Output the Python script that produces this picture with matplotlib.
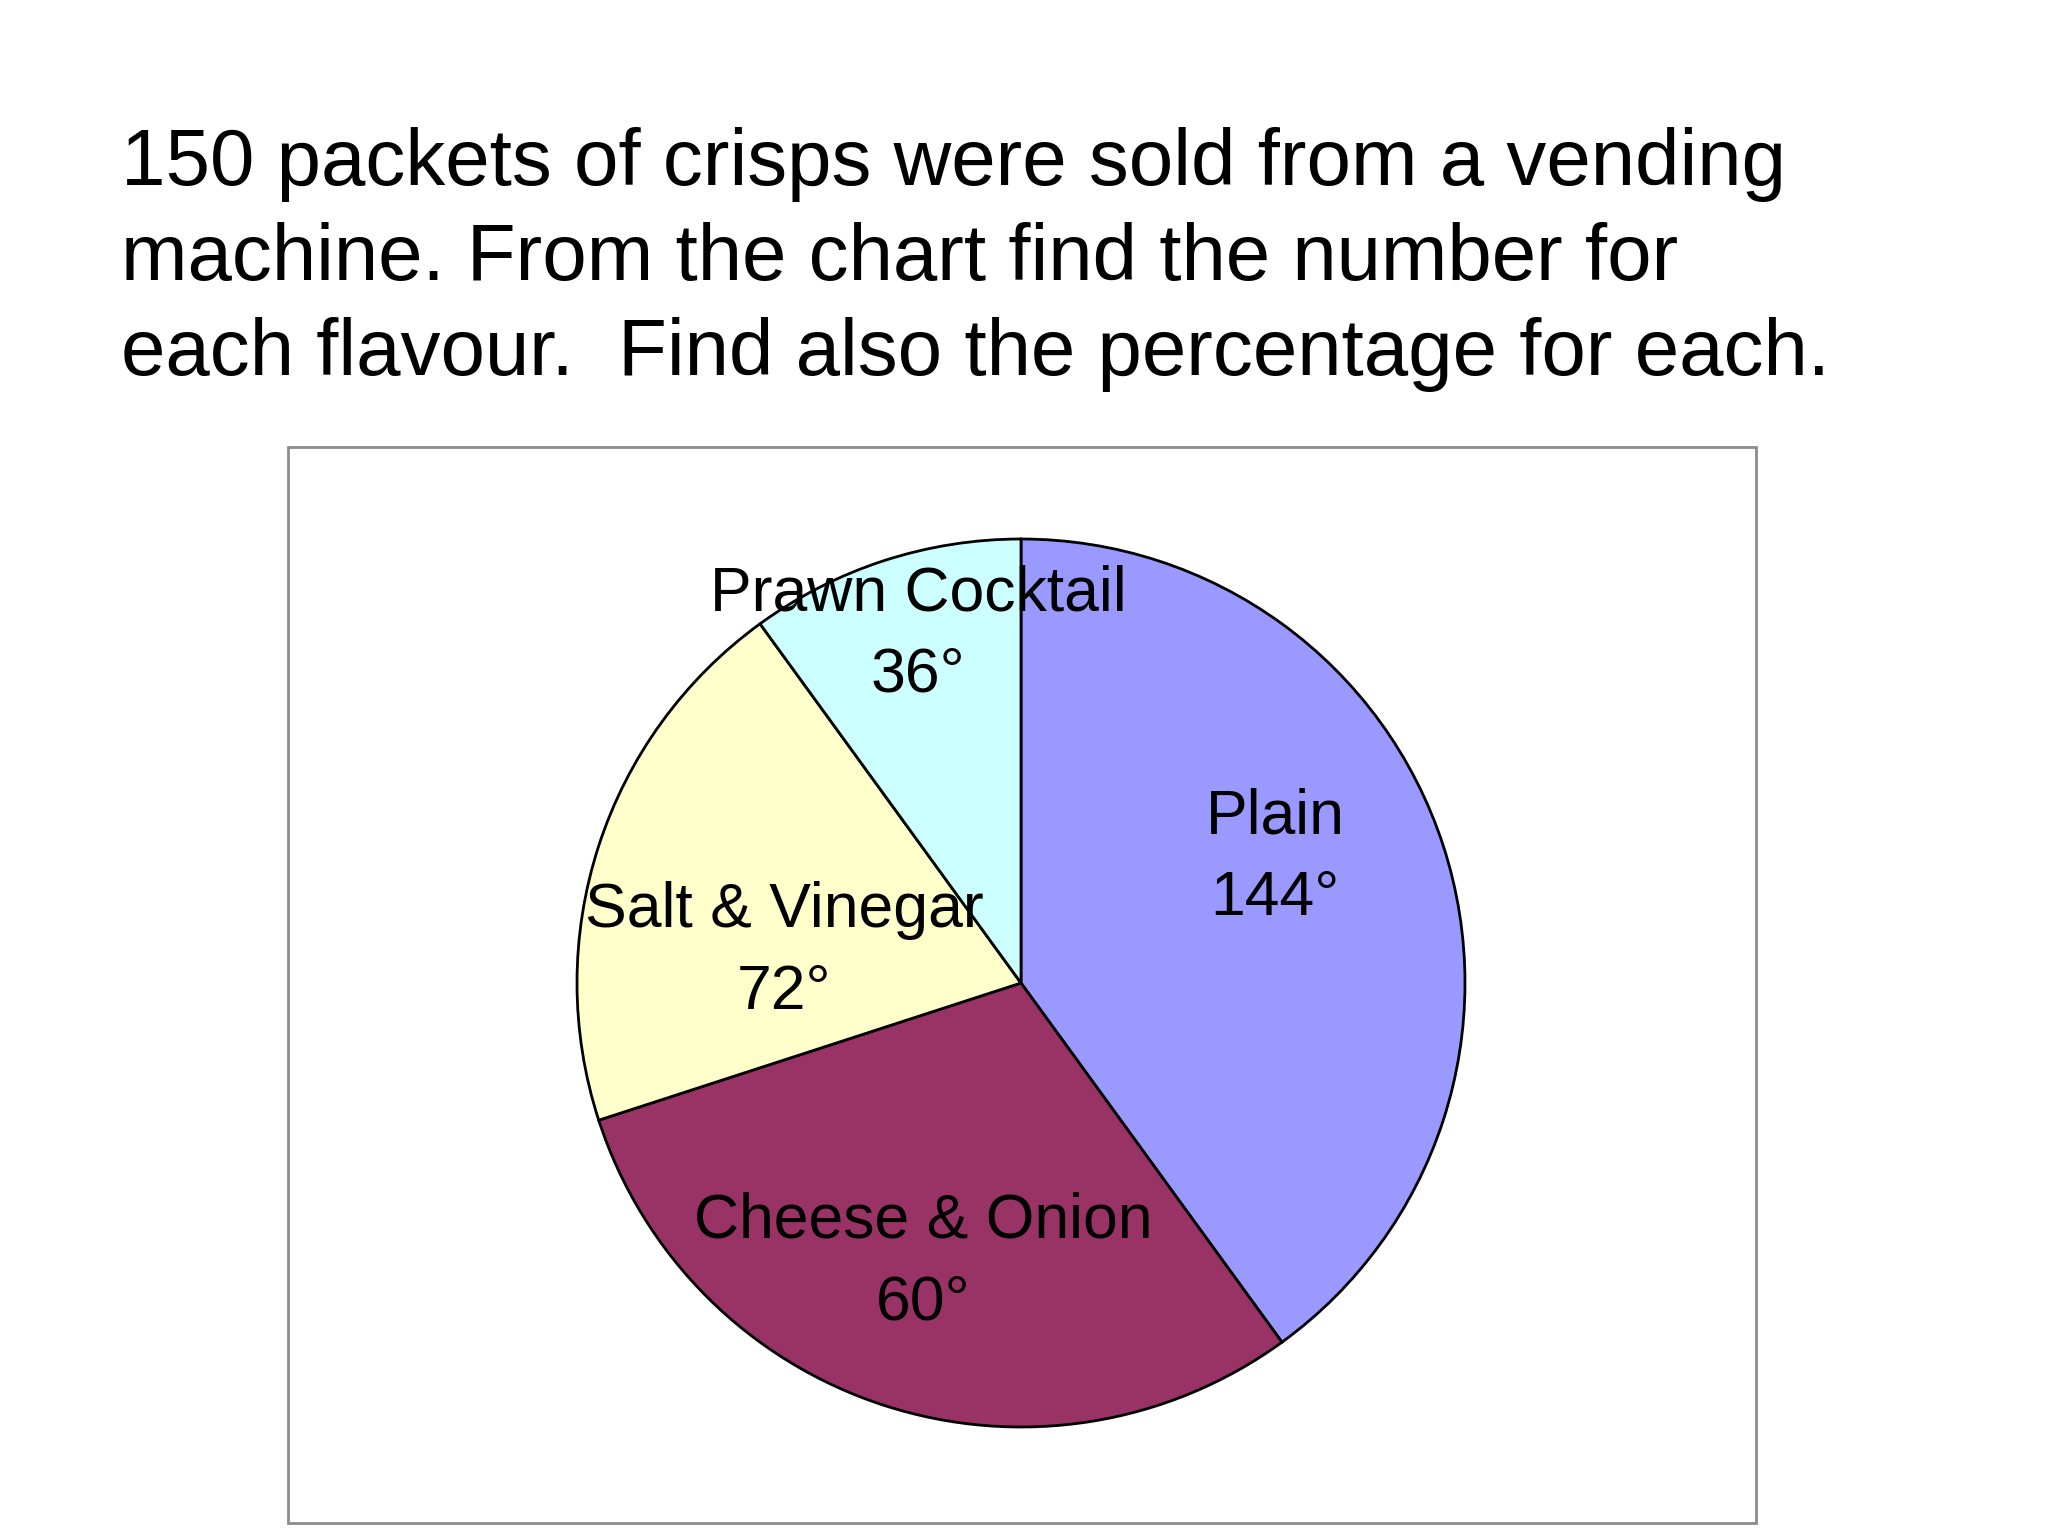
import matplotlib
matplotlib.use('Agg')
import matplotlib.pyplot as plt
from matplotlib.patches import Rectangle

W, H = 2048, 1536  # output size in pixels
DPI = 100

TITLE_LINES = ['150 packets of crisps were sold from a vending',
               'machine. From the chart find the number for',
               'each flavour.  Find also the percentage for each.']

# wedge sizes as drawn (degrees), clockwise from 12 o'clock
flavours = ['Plain', 'Cheese & Onion', 'Salt & Vinegar', 'Prawn Cocktail']
angles = [144, 108, 72, 36]
angle_labels = ['144°', '60°', '72°', '36°']  # text printed on the slide
colours = ['#9999FF', '#993366', '#FFFFCC', '#CCFFFF']

# label centres in pixels (x, baseline of first line)
label_pos = [(1275, 833), (923, 1237), (784, 927), (918, 610)]

plt.rcParams['font.family'] = ['Liberation Sans', 'DejaVu Sans']

fig = plt.figure(figsize=(W / DPI, H / DPI), dpi=DPI)

def px(x, y):
    '''pixel coords (top-left origin) -> figure fraction'''
    return x / W, 1 - y / H

# title, one line at a time so the spacing matches
for i, line in enumerate(TITLE_LINES):
    fig.text(*px(121, 185 + i * 95), line, fontsize=57.5, va='baseline', ha='left')

# grey frame of the chart area
x0, y0 = px(288, 447)
x1, y1 = px(1756, 1523)
fig.patches.append(Rectangle((x0, y1), x1 - x0, y0 - y1, transform=fig.transFigure,
                             fill=False, edgecolor='#8c8c8c', linewidth=2))

# pie axes: centre (1021, 983) px, radius 444 px
CX, CY, R = 1021, 983, 444
ax = fig.add_axes([(CX - R) / W, 1 - (CY + R) / H, 2 * R / W, 2 * R / H])
ax.pie(angles, colors=colours, startangle=90, counterclock=False, radius=1,
       wedgeprops={'edgecolor': 'black', 'linewidth': 2})
ax.set_xlim(-1, 1)
ax.set_ylim(-1, 1)
ax.set_aspect('equal')
ax.axis('off')

for name, ang, (lx, ly) in zip(flavours, angle_labels, label_pos):
    fig.text(*px(lx, ly), name, fontsize=45, ha='center', va='baseline')
    fig.text(*px(lx, ly + 82), ang, fontsize=45, ha='center', va='baseline')

fig.savefig('out.png', dpi=DPI)
